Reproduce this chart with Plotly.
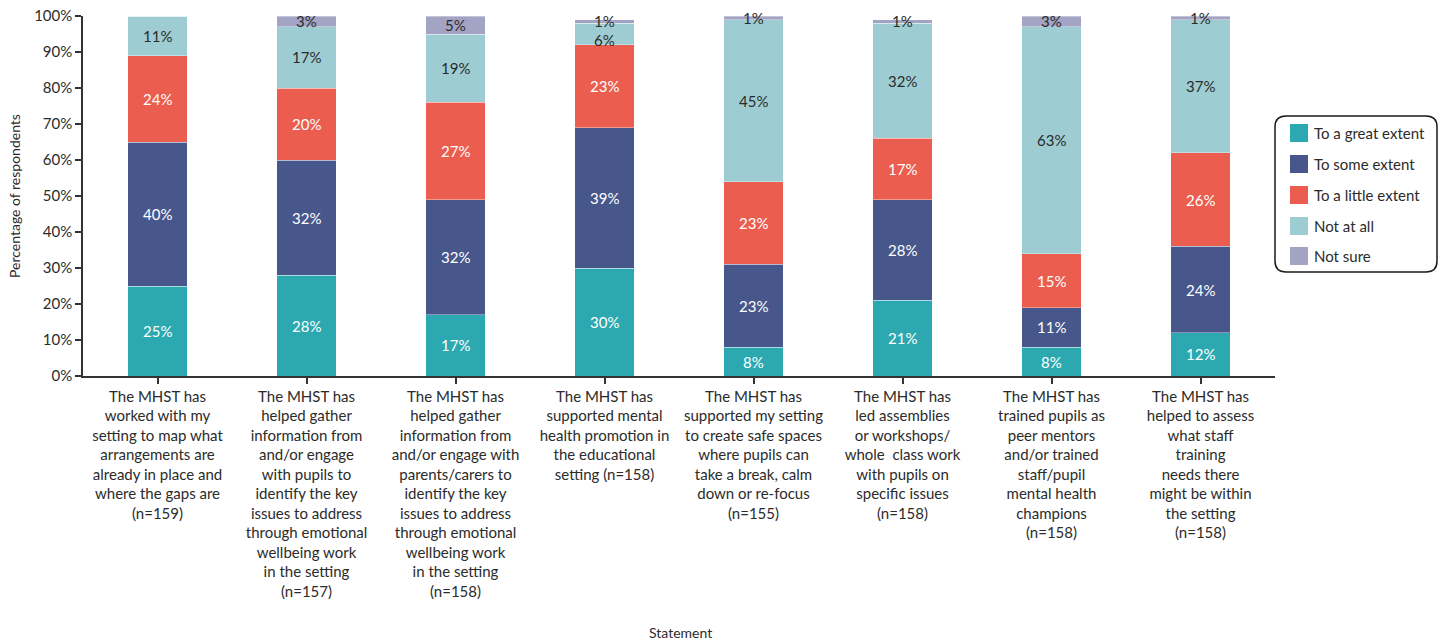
import plotly.graph_objects as go

# Survey statements (x categories)
statements = [
    "The MHST has<br>worked with my<br>setting to map what<br>arrangements are<br>already in place and<br>where the gaps are<br>(n=159)",
    "The MHST has<br>helped gather<br>information from<br>and/or engage<br>with pupils to<br>identify the key<br>issues to address<br>through emotional<br>wellbeing work<br>in the setting<br>(n=157)",
    "The MHST has<br>helped gather<br>information from<br>and/or engage with<br>parents/carers to<br>identify the key<br>issues to address<br>through emotional<br>wellbeing work<br>in the setting<br>(n=158)",
    "The MHST has<br>supported mental<br>health promotion in<br>the educational<br>setting (n=158)",
    "The MHST has<br>supported my setting<br>to create safe spaces<br>where pupils can<br>take a break, calm<br>down or re-focus<br>(n=155)",
    "The MHST has<br>led assemblies<br>or workshops/<br>whole  class work<br>with pupils on<br>specific issues<br>(n=158)",
    "The MHST has<br>trained pupils as<br>peer mentors<br>and/or trained<br>staff/pupil<br>mental health<br>champions<br>(n=158)",
    "The MHST has<br>helped to assess<br>what staff<br>training<br>needs there<br>might be within<br>the setting<br>(n=158)",
]

# Response shares (%) per statement
great_extent = [25, 28, 17, 30, 8, 21, 8, 12]
some_extent = [40, 32, 32, 39, 23, 28, 11, 24]
little_extent = [24, 20, 27, 23, 23, 17, 15, 26]
not_at_all = [11, 17, 19, 6, 45, 32, 63, 37]
not_sure = [0, 3, 5, 1, 1, 1, 3, 1]

series_names = ["To a great extent", "To some extent", "To a little extent", "Not at all", "Not sure"]
series_values = [great_extent, some_extent, little_extent, not_at_all, not_sure]
series_colors = ["#2CA9B0", "#47578C", "#EB5E4F", "#9DCDD2", "#A3A3C3"]
label_colors = ["#FFFFFF", "#FFFFFF", "#FFFFFF", "#2B2B2B", "#2B2B2B"]

FONT = "Lato, 'Open Sans', sans-serif"
TEXT = "#2B2B2B"

fig = go.Figure()
for name, vals, col in zip(series_names, series_values, series_colors):
    fig.add_trace(go.Bar(
        name=name,
        x=statements,
        y=vals,
        marker=dict(color=col, line=dict(color="rgba(255,255,255,0.6)", width=0.6)),
        showlegend=False,
        hoverinfo="skip",
    ))

annotations = []

# Value labels centred in each segment; a thin segment sitting directly on top
# pushes the label below it down a little so the two don't collide.
for i, cat in enumerate(statements):
    base = 0
    for k, (vals, tcol) in enumerate(zip(series_values, label_colors)):
        v = vals[i]
        if v > 0:
            above = series_values[k + 1][i] if k + 1 < len(series_values) else 0
            shift = -6 if (v < 8 and 0 < above < 3) else 0
            annotations.append(dict(
                x=cat, y=base + v / 2, xref="x", yref="y", text=f"{v}%",
                showarrow=False, yshift=shift, xanchor="center", yanchor="middle",
                font=dict(size=15, color=tcol, family=FONT),
            ))
        base += v

# Plot area geometry (pixels) used to place the legend and titles
W, H = 1440, 641
L, R, T, B = 83, 165, 16, 265
pw = W - L - R
ph = H - T - B


def px_x(x):
    return (x - L) / pw


def px_y(y):
    return (H - B - y) / ph


# Rounded legend frame
x0, x1 = px_x(1275), px_x(1437)
y0, y1 = px_y(272), px_y(116)
rx, ry = 11 / pw, 11 / ph
frame = (
    f"M {x0 + rx},{y1} L {x1 - rx},{y1} Q {x1},{y1} {x1},{y1 - ry} "
    f"L {x1},{y0 + ry} Q {x1},{y0} {x1 - rx},{y0} "
    f"L {x0 + rx},{y0} Q {x0},{y0} {x0},{y0 + ry} "
    f"L {x0},{y1 - ry} Q {x0},{y1} {x0 + rx},{y1} Z"
)
shapes = [dict(type="path", path=frame, xref="paper", yref="paper",
               line=dict(color="#1A1A1A", width=1.5), fillcolor="rgba(0,0,0,0)")]

item_y = [133, 164, 195, 226, 256]
for name, col, cy in zip(series_names, series_colors, item_y):
    shapes.append(dict(type="rect", xref="paper", yref="paper",
                       x0=px_x(1290), x1=px_x(1308), y0=px_y(cy + 9), y1=px_y(cy - 9),
                       fillcolor=col, line=dict(width=0)))
    annotations.append(dict(text=name, xref="paper", yref="paper", x=px_x(1312), y=px_y(cy),
                            xanchor="left", yanchor="middle", showarrow=False,
                            font=dict(size=15, color=TEXT, family=FONT)))

annotations.append(dict(text="Percentage of respondents", xref="paper", yref="paper",
                        x=px_x(14), y=px_y(196), textangle=-90, xanchor="center", yanchor="middle",
                        showarrow=False, font=dict(size=14, color=TEXT, family=FONT)))
annotations.append(dict(text="Statement", xref="paper", yref="paper",
                        x=px_x(680), y=px_y(632), xanchor="center", yanchor="middle",
                        showarrow=False, font=dict(size=14, color=TEXT, family=FONT)))

fig.update_layout(
    barmode="stack",
    bargap=0.6,
    width=W, height=H,
    margin=dict(l=L, r=R, t=T, b=B, autoexpand=False),
    plot_bgcolor="white",
    paper_bgcolor="white",
    font=dict(family=FONT, size=15, color=TEXT),
    shapes=shapes,
    annotations=annotations,
    showlegend=False,
)
fig.update_xaxes(
    showline=True, linecolor="#333333", linewidth=1.5,
    ticks="outside", ticklen=6, tickcolor="#333333", tickwidth=1.5,
    tickangle=0, tickfont=dict(size=15, color=TEXT, family=FONT),
    showgrid=False,
)
fig.update_yaxes(
    range=[0, 100], dtick=10, ticksuffix="%",
    showline=True, linecolor="#333333", linewidth=1.5,
    ticks="outside", ticklen=6, tickcolor="#333333", tickwidth=1.5,
    tickfont=dict(size=15, color=TEXT, family=FONT),
    showgrid=False, zeroline=False,
)

fig.write_html("out.html")
